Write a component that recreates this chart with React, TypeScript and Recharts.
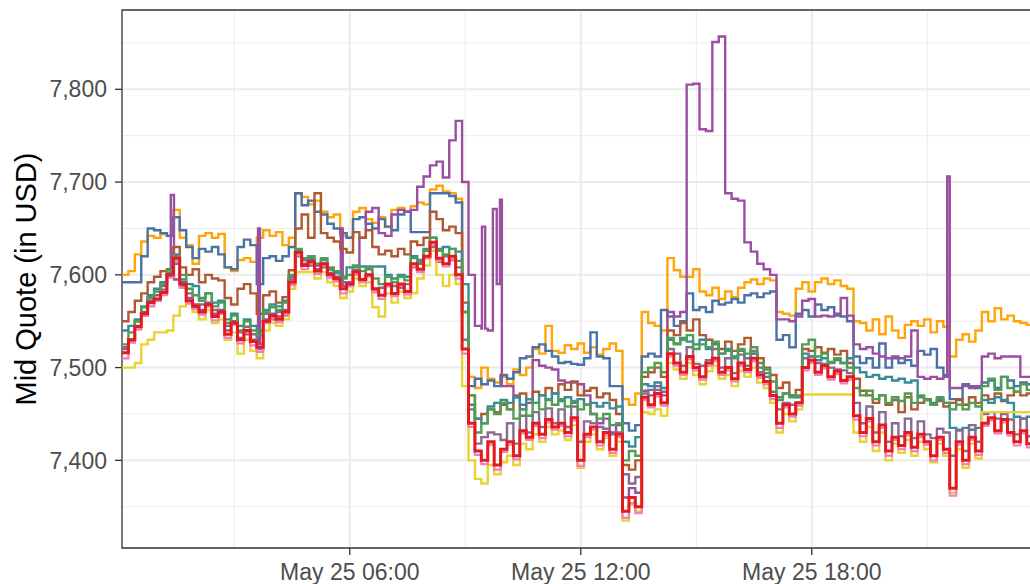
import React from "react";
import { LineChart, Line, XAxis, YAxis, CartesianGrid, ReferenceArea } from "recharts";

// Sampling grid: minutes after May 25 00:00, every 10 minutes
const minutes: number[] = Array.from({ length: 144 }, (_, i) => 5 + 10 * i);

const xTicks = [360, 720, 1080];
const xTickLabels = ["May 25 06:00", "May 25 12:00", "May 25 18:00"];
const xMinor = [180, 540, 900, 1260];
const yTicks = [7400, 7500, 7600, 7700, 7800];
const yMinor = [7350, 7450, 7550, 7650, 7750, 7850];

const red = [
  7516, 7530, 7544, 7558, 7570, 7574, 7581, 7600, 7618, 7590,
  7572, 7566, 7560, 7568, 7555, 7560, 7536, 7548, 7530, 7540,
  7528, 7522, 7550, 7556, 7552, 7560, 7592, 7624, 7610, 7614,
  7604, 7612, 7600, 7596, 7585, 7590, 7603, 7595, 7600, 7585,
  7578, 7590, 7580, 7590, 7582, 7612, 7606, 7620, 7635, 7618,
  7612, 7620, 7600, 7520, 7440, 7410, 7400, 7420, 7395, 7412,
  7420, 7405, 7432, 7425, 7440, 7428, 7444, 7436, 7440, 7430,
  7446, 7400, 7428, 7436, 7420, 7430, 7412, 7428, 7345, 7360,
  7350, 7468, 7460, 7472, 7462, 7515, 7505, 7495, 7512, 7500,
  7490, 7505, 7510, 7495, 7500, 7488, 7505, 7498, 7510, 7492,
  7485, 7470, 7440, 7460, 7450, 7462, 7500, 7508, 7495, 7502,
  7490, 7496, 7486, 7490, 7448, 7430, 7445, 7420, 7438, 7410,
  7425, 7416, 7430, 7414, 7428, 7420, 7405, 7425, 7412, 7370,
  7420, 7400, 7425, 7410, 7440, 7446, 7432, 7444, 7430, 7420,
  7432, 7418, 7425, 7420,
];

const green = [
  7525, 7538, 7550, 7565, 7575, 7582, 7590, 7605, 7620, 7600,
  7585, 7578, 7572, 7580, 7566, 7570, 7548, 7556, 7540, 7550,
  7540, 7535, 7560, 7565, 7562, 7570, 7600, 7628, 7618, 7620,
  7612, 7618, 7608, 7604, 7596, 7600, 7610, 7604, 7608, 7596,
  7590, 7598, 7592, 7598, 7594, 7618, 7614, 7626, 7640, 7626,
  7622, 7628, 7615, 7560, 7470, 7430, 7440, 7455, 7450, 7462,
  7455, 7445, 7455, 7448, 7462, 7455, 7465, 7460, 7466, 7458,
  7464, 7455, 7460, 7450, 7445, 7450, 7438, 7440, 7400, 7410,
  7405, 7495, 7500, 7505, 7495, 7532, 7525, 7530, 7535, 7520,
  7525, 7522, 7528, 7515, 7518, 7510, 7520, 7515, 7522, 7505,
  7498, 7485, 7465, 7472, 7468, 7470, 7525, 7530, 7512, 7515,
  7505, 7510, 7505, 7500, 7478, 7470, 7475, 7466, 7470, 7462,
  7468, 7464, 7472, 7462, 7470, 7465, 7460, 7468, 7462, 7455,
  7460, 7455, 7462, 7458, 7480, 7488, 7476, 7490, 7478, 7474,
  7482, 7476, 7480, 7478,
];

const teal = [
  7540, 7545, 7552, 7566, 7578, 7585, 7592, 7602, 7612, 7595,
  7590, 7588, 7575, 7580, 7570, 7572, 7552, 7558, 7545, 7552,
  7545, 7540, 7562, 7568, 7566, 7572, 7598, 7626, 7616, 7618,
  7610, 7616, 7606, 7602, 7598, 7608, 7609, 7609, 7609, 7609,
  7609, 7600, 7596, 7600, 7598, 7620, 7616, 7628, 7630, 7628,
  7630, 7628, 7625, 7590, 7460, 7445, 7440, 7458, 7462, 7465,
  7462, 7468, 7460, 7466, 7462, 7470, 7466, 7472, 7464, 7468,
  7462, 7466, 7460, 7462, 7458, 7462, 7456, 7458, 7420, 7415,
  7425, 7482, 7480, 7484, 7478, 7530, 7526, 7532, 7528, 7525,
  7530, 7520, 7526, 7515, 7520, 7512, 7518, 7510, 7515, 7500,
  7490, 7470, 7468, 7472, 7470, 7468, 7515, 7512, 7508, 7510,
  7506, 7508, 7505, 7510, 7500, 7495, 7490, 7492, 7488, 7490,
  7486, 7488, 7484, 7486, 7468, 7465, 7462, 7466, 7462, 7435,
  7433, 7435, 7433, 7435, 7465, 7462, 7468, 7465, 7462, 7447,
  7445, 7447, 7445, 7446,
];

const blue = [
  7592, 7592, 7592, 7620, 7650, 7648, 7645, 7642, 7662, 7648,
  7630, 7618, 7628, 7625, 7630, 7622, 7608, 7606, 7630, 7638,
  7632, 7590, 7618, 7620, 7615, 7620, 7630, 7688, 7675, 7680,
  7668, 7665, 7655, 7650, 7645, 7640, 7660, 7662, 7655, 7650,
  7660, 7652, 7648, 7665, 7668, 7646, 7646, 7646, 7688, 7688,
  7688, 7685, 7678, 7560, 7480, 7488, 7482, 7486, 7480, 7492,
  7488, 7495, 7510, 7512, 7522, 7525, 7518, 7512, 7505, 7506,
  7504, 7503, 7510, 7538, 7512, 7510, 7480, 7480, 7440, 7432,
  7438, 7512, 7515, 7512, 7562, 7555, 7545, 7550, 7580, 7562,
  7565, 7560, 7572, 7568, 7570, 7574, 7570, 7578, 7580, 7576,
  7580, 7582, 7530, 7535, 7522, 7558, 7562, 7555, 7568, 7562,
  7565, 7556, 7555, 7550, 7512, 7505, 7510, 7500, 7526, 7500,
  7510, 7505, 7508, 7502, 7518, 7514, 7520, 7500, 7492, 7466,
  7465, 7482, 7480, 7478, 7484, 7486, 7478, 7490, 7486, 7480,
  7484, 7482, 7484, 7482,
];

const orange = [
  7600, 7604, 7622, 7636, 7642, 7640, 7644, 7642, 7670, 7640,
  7632, 7612, 7642, 7645, 7640, 7644, 7608, 7604, 7616, 7618,
  7614, 7640, 7648, 7642, 7646, 7632, 7640, 7688, 7684, 7676,
  7680, 7668, 7662, 7665, 7642, 7640, 7668, 7672, 7660, 7656,
  7662, 7652, 7670, 7672, 7668, 7674, 7678, 7676, 7692, 7696,
  7690, 7688, 7682, 7560, 7490, 7478, 7500, 7488, 7484, 7490,
  7482, 7498, 7492, 7500, 7520, 7515, 7545, 7518, 7516, 7524,
  7520, 7526, 7516, 7522, 7514, 7520, 7526, 7518, 7466, 7460,
  7472, 7560, 7548, 7545, 7540, 7618, 7605, 7598, 7598, 7606,
  7582, 7578, 7586, 7574, 7582, 7576, 7586, 7592, 7595, 7590,
  7596, 7594, 7560, 7558, 7556, 7585, 7592, 7582, 7592, 7596,
  7590, 7594, 7588, 7585, 7550, 7548, 7540, 7552, 7536, 7555,
  7540, 7532, 7546, 7550, 7545, 7552, 7538, 7550, 7544, 7512,
  7530, 7536, 7528, 7540, 7560, 7550, 7564, 7552, 7556, 7550,
  7548, 7546, 7546, 7546,
];

const brown = [
  7550, 7560, 7572, 7580, 7592, 7598, 7604, 7606, 7630, 7608,
  7600, 7606, 7592, 7600, 7596, 7594, 7575, 7568, 7585, 7590,
  7580, 7558, 7578, 7582, 7570, 7576, 7605, 7650, 7665, 7640,
  7688, 7645, 7640, 7636, 7628, 7624, 7646, 7640, 7648, 7630,
  7622, 7626, 7620, 7628, 7622, 7636, 7632, 7640, 7668, 7660,
  7648, 7652, 7645, 7570, 7470, 7445, 7450, 7455, 7452, 7460,
  7455, 7468, 7472, 7466, 7474, 7470, 7478, 7472, 7482, 7476,
  7484, 7470, 7475, 7478, 7468, 7472, 7465, 7450, 7395, 7390,
  7400, 7490, 7495, 7500, 7490, 7540, 7535, 7548, 7540, 7552,
  7535, 7530, 7525, 7520, 7528, 7518, 7525, 7532, 7515, 7510,
  7500, 7492, 7478, 7484, 7470, 7476, 7520, 7518, 7522, 7516,
  7520, 7514, 7518, 7505, 7488, 7475, 7470, 7462, 7470, 7460,
  7465, 7452, 7468, 7455, 7462, 7466, 7460, 7464, 7458, 7462,
  7466, 7460, 7468, 7462, 7470, 7466, 7472, 7464, 7470, 7474,
  7470, 7472, 7470, 7472,
];

// Purple on the 10-minute grid (base level), plus short spikes below
const purple = [
  7520, 7530, 7545, 7560, 7572, 7578, 7584, 7600, 7595, 7592,
  7575, 7568, 7562, 7570, 7558, 7562, 7540, 7550, 7532, 7544,
  7530, 7525, 7552, 7558, 7555, 7562, 7595, 7625, 7612, 7616,
  7606, 7612, 7602, 7598, 7588, 7592, 7605, 7640, 7668, 7672,
  7645, 7642, 7665, 7670, 7668, 7670, 7695, 7706, 7718, 7722,
  7705, 7745, 7766, 7700, 7600, 7545, 7542, 7540, 7590, 7480,
  7480, 7470, 7455, 7462, 7508, 7502, 7500, 7498, 7486, 7484,
  7485, 7482, 7470, 7450, 7440, 7445, 7430, 7438, 7360, 7370,
  7365, 7475, 7470, 7480, 7470, 7560, 7555, 7560, 7805, 7806,
  7757, 7755, 7851, 7857, 7688, 7682, 7680, 7635, 7625, 7612,
  7606, 7600, 7552, 7552, 7550, 7555, 7572, 7574, 7555, 7556,
  7555, 7558, 7575, 7556, 7525, 7520, 7522, 7515, 7512, 7510,
  7512, 7510, 7512, 7540, 7490, 7488, 7490, 7488, 7490, 7478,
  7478, 7480, 7478, 7480, 7512, 7515, 7510, 7512, 7512, 7512,
  7490, 7490, 7490, 7490,
];
// [start minute, end minute, value]
const purpleSpikes: [number, number, number][] = [
  [81, 86, 7686],
  [217, 220, 7650],
  [346, 349, 7650],
  [566, 571, 7652],
  [583, 589, 7671],
  [594, 597, 7681],
  [1291, 1295, 7706],
];

const yellow = [
  7500, 7500, 7505, 7525, 7530, 7538, 7538, 7540, 7556, 7566,
  7570, 7560, 7552, 7562, 7548, 7552, 7530, 7538, 7515, 7530,
  7518, 7510, 7540, 7548, 7545, 7552, 7585, 7603, 7603, 7603,
  7596, 7603, 7592, 7588, 7575, 7582, 7596, 7588, 7592, 7565,
  7555, 7580, 7570, 7582, 7575, 7580, 7596, 7610, 7626, 7600,
  7588, 7600, 7590, 7480, 7400, 7380, 7375, 7395, 7385, 7398,
  7405, 7395, 7418, 7412, 7428, 7420, 7436, 7428, 7432, 7422,
  7438, 7392, 7420, 7428, 7412, 7424, 7405, 7420, 7335, 7352,
  7345, 7452, 7450, 7455, 7448, 7505, 7498, 7488, 7505, 7492,
  7482, 7496, 7502, 7488, 7492, 7480, 7496, 7490, 7500, 7484,
  7478, 7462, 7430, 7450, 7442, 7455, 7471, 7471, 7471, 7471,
  7471, 7471, 7471, 7471, 7430, 7420, 7436, 7410, 7430, 7400,
  7418, 7408, 7422, 7405, 7420, 7412, 7398, 7418, 7405, 7365,
  7412, 7392, 7418, 7402, 7452, 7452, 7452, 7452, 7452, 7452,
  7452, 7452, 7452, 7452,
];

const pink = [
  7510, 7527, 7541, 7556, 7566, 7572, 7578, 7597, 7615, 7586,
  7569, 7563, 7557, 7566, 7551, 7558, 7532, 7546, 7526, 7538,
  7524, 7517, 7548, 7553, 7549, 7557, 7589, 7621, 7606, 7612,
  7601, 7610, 7597, 7593, 7580, 7588, 7600, 7592, 7598, 7581,
  7574, 7588, 7577, 7588, 7579, 7609, 7603, 7618, 7632, 7615,
  7609, 7617, 7596, 7515, 7436, 7406, 7396, 7417, 7390, 7409,
  7417, 7401, 7429, 7422, 7437, 7424, 7441, 7433, 7437, 7426,
  7443, 7394, 7425, 7433, 7416, 7427, 7408, 7425, 7338, 7354,
  7343, 7465, 7457, 7469, 7459, 7512, 7502, 7492, 7509, 7497,
  7487, 7502, 7507, 7492, 7497, 7485, 7502, 7495, 7507, 7489,
  7482, 7466, 7435, 7457, 7447, 7459, 7497, 7505, 7492, 7499,
  7487, 7493, 7483, 7487, 7444, 7426, 7442, 7416, 7435, 7405,
  7422, 7412, 7427, 7410, 7425, 7417, 7400, 7422, 7408, 7362,
  7417, 7396, 7422, 7406, 7437, 7443, 7429, 7441, 7427, 7416,
  7429, 7414, 7422, 7417,
];

const mauve = [
  7522, 7528, 7550, 7556, 7576, 7572, 7588, 7598, 7622, 7588,
  7580, 7565, 7568, 7566, 7562, 7558, 7545, 7546, 7538, 7536,
  7536, 7520, 7558, 7552, 7560, 7556, 7598, 7620, 7616, 7610,
  7610, 7608, 7606, 7594, 7592, 7588, 7608, 7594, 7606, 7584,
  7586, 7588, 7588, 7586, 7590, 7608, 7612, 7618, 7640, 7614,
  7620, 7616, 7608, 7530, 7455, 7418, 7425, 7430, 7428, 7422,
  7440, 7418, 7448, 7430, 7452, 7436, 7456, 7440, 7455, 7436,
  7458, 7420, 7442, 7440, 7436, 7434, 7428, 7430, 7385, 7375,
  7382, 7472, 7476, 7476, 7474, 7520, 7515, 7502, 7522, 7504,
  7502, 7508, 7520, 7500, 7510, 7494, 7514, 7502, 7518, 7495,
  7494, 7474, 7455, 7462, 7460, 7462, 7510, 7512, 7505, 7504,
  7500, 7498, 7497, 7494, 7462, 7440, 7458, 7430, 7452, 7420,
  7440, 7426, 7445, 7424, 7442, 7428, 7424, 7434, 7430, 7405,
  7432, 7410, 7438, 7420, 7450, 7452, 7445, 7450, 7444, 7428,
  7445, 7426, 7438, 7430,
];

type SeriesDef = { key: string; values: number[]; color: string; width: number };

const seriesDefs: SeriesDef[] = [
  { key: "orange", values: orange, color: "#FFA50A", width: 2.4 },
  { key: "blue", values: blue, color: "#4A72A6", width: 2.4 },
  { key: "brown", values: brown, color: "#B05A32", width: 2.4 },
  { key: "teal", values: teal, color: "#3A8B98", width: 2.4 },
  { key: "mauve", values: mauve, color: "#8A6A90", width: 2.4 },
  { key: "green", values: green, color: "#4F9F52", width: 2.4 },
  { key: "yellow", values: yellow, color: "#E8D430", width: 2.4 },
  { key: "pink", values: pink, color: "#F07FBC", width: 2.2 },
  { key: "red", values: red, color: "#E41A1C", width: 3 },
];

const rows = minutes.map((m, i) => {
  const r: Record<string, number> = { m };
  seriesDefs.forEach((s) => {
    r[s.key] = s.values[i];
  });
  return r;
});

// Purple: grid points outside spikes, plus spike start/end points
const purpleAt = (t: number) => purple[Math.min(purple.length - 1, Math.max(0, Math.floor((t - 5) / 10)))];
const purpleRows = [
  ...minutes
    .map((m, i) => ({ m, purple: purple[i] }))
    .filter((p) => !purpleSpikes.some(([s, e]) => p.m >= s && p.m <= e)),
  ...purpleSpikes.flatMap(([s, e, v]) => [
    { m: s, purple: v },
    { m: e, purple: purpleAt(e) },
  ]),
].sort((a, b) => a.m - b.m);

const FONT = "'Liberation Sans', Arial, Helvetica, sans-serif";
const Y_MIN = 7305.5;
const Y_MAX = 7885.5;
const X_MIN = 5;
const X_MAX = 1445;

export default function App() {
  const lineFor = (s: SeriesDef) => (
    <Line
      key={s.key}
      dataKey={s.key}
      type="stepAfter"
      stroke={s.color}
      strokeWidth={s.width}
      dot={false}
      activeDot={false}
      isAnimationActive={false}
    />
  );
  return (
    <div
      style={{
        position: "fixed",
        left: 0,
        top: 0,
        width: 1030,
        height: 584,
        overflow: "hidden",
        background: "#ffffff",
      }}
    >
      <LineChart
        width={1100}
        height={584}
        data={rows}
        margin={{ top: 10, right: 54, bottom: 0, left: 0 }}
      >
        <CartesianGrid
          horizontalValues={yMinor}
          verticalValues={xMinor}
          stroke="#EBEBEB"
          strokeWidth={1}
        />
        <CartesianGrid
          horizontalValues={yTicks}
          verticalValues={xTicks}
          stroke="#EBEBEB"
          strokeWidth={2}
        />
        <XAxis
          dataKey="m"
          type="number"
          domain={[X_MIN, X_MAX]}
          ticks={xTicks}
          interval={0}
          allowDataOverflow
          tickFormatter={(v: number) => xTickLabels[xTicks.indexOf(v)] ?? ""}
          height={36}
          tickSize={7}
          tickMargin={9}
          axisLine={false}
          tickLine={{ stroke: "#333333", strokeWidth: 1.3 }}
          tick={{ fill: "#4D4D4D", fontSize: 23, fontFamily: FONT }}
        />
        <YAxis
          type="number"
          domain={[Y_MIN, Y_MAX]}
          ticks={yTicks}
          interval={0}
          allowDataOverflow
          width={122}
          tickFormatter={(v: number) => v.toLocaleString("en-US")}
          tickSize={7}
          tickMargin={8}
          axisLine={false}
          tickLine={{ stroke: "#333333", strokeWidth: 1.3 }}
          tick={{ fill: "#4D4D4D", fontSize: 23, fontFamily: FONT }}
        />
        {seriesDefs.slice(0, 2).map(lineFor)}
        <Line
          key="purple"
          data={purpleRows}
          dataKey="purple"
          type="stepAfter"
          stroke="#9A4FA1"
          strokeWidth={2.4}
          dot={false}
          activeDot={false}
          isAnimationActive={false}
        />
        {seriesDefs.slice(2).map(lineFor)}
        <ReferenceArea
          x1={X_MIN}
          x2={X_MAX}
          y1={Y_MIN}
          y2={Y_MAX}
          fill="none"
          fillOpacity={0}
          stroke="#333333"
          strokeWidth={1.3}
          ifOverflow="visible"
        />
      </LineChart>
      <div
        style={{
          position: "absolute",
          left: 26,
          top: 279,
          transform: "translate(-50%, -50%) rotate(-90deg)",
          whiteSpace: "nowrap",
          fontFamily: FONT,
          fontSize: 29,
          color: "#000000",
          lineHeight: 1,
        }}
      >
        Mid Quote (in USD)
      </div>
    </div>
  );
}
